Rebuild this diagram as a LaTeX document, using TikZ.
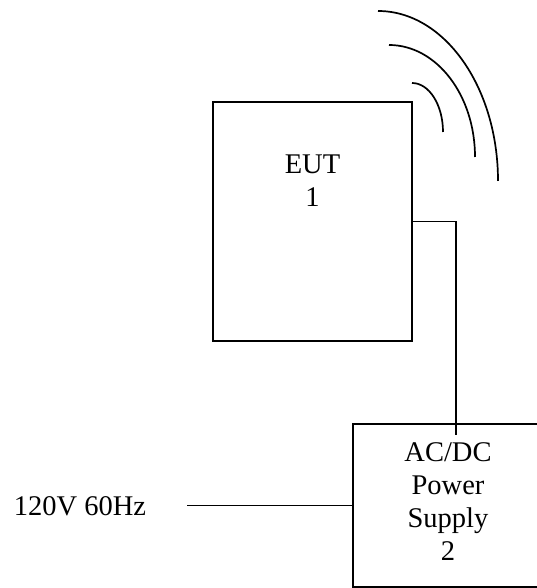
\documentclass[tikz,border=0pt]{standalone}
\usepackage{fontspec}
\setmainfont{Liberation Serif}
\begin{document}
\begin{tikzpicture}[x=1pt,y=1pt,
  box/.style={draw,line width=1.8pt,inner sep=0pt},
  lbl/.style={inner sep=0pt,align=center,font=\fontsize{28.5}{33}\selectfont},
  wire/.style={line width=1.6pt},
  wave/.style={line width=1.7pt}]
\useasboundingbox (0,0) rectangle (536,588);
\fill[white] (0,0) rectangle (536,588);
% EUT
\node[box,minimum width=199pt,minimum height=239pt] (eut) at (312.5,366.5) {};
\node[lbl] (eutlbl) at (312.5,407.5) {EUT\\1};
% Power supply
\node[box,minimum width=207pt,minimum height=163pt] (psu) at (456.5,82.5) {};
\node[lbl] (psulbl) at (448,86) {AC/DC\\Power\\Supply\\2};
% input
\node[lbl] (mains) at (80,81.5) {120V 60Hz};
\coordinate (inl) at (187,82.5);
\draw[wire] (inl) -- (psu.west);
% connector
\coordinate (wend) at (456,153);
\draw[wire] (eut.east) -| (wend);
% radio waves
\draw[wave] (378,577) arc[start angle=90,end angle=0,x radius=120,y radius=170];
\draw[wave] (389,543) arc[start angle=90,end angle=0,x radius=86,y radius=112];
\draw[wave] (412,505) arc[start angle=90,end angle=0,x radius=31,y radius=49];
\end{tikzpicture}
\end{document}
